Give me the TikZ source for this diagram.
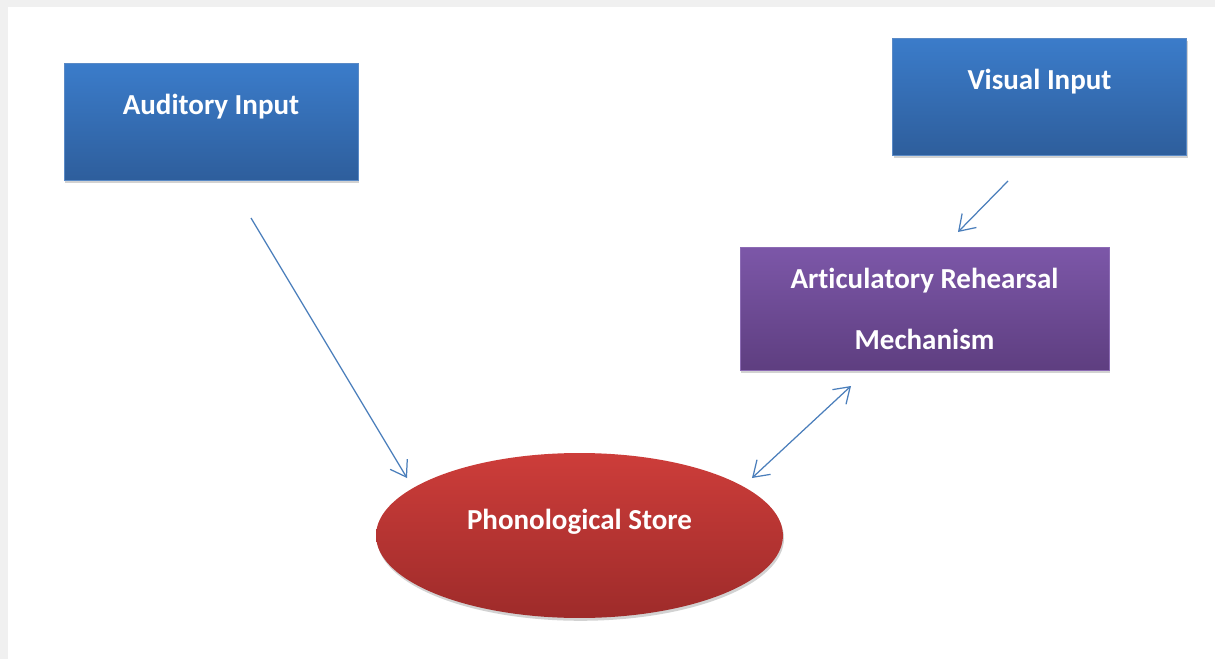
\documentclass[tikz,border=0pt]{standalone}
\usepackage{fontspec}
\setmainfont{Carlito}[Ligatures=NoCommon]
\usetikzlibrary{arrows.meta,shadows,shapes.geometric}
\definecolor{bluetop}{HTML}{3B7CCA}
\definecolor{bluebot}{HTML}{2E5E9C}
\definecolor{bluerim}{HTML}{5A8AC6}
\definecolor{purtop}{HTML}{7C57A8}
\definecolor{purbot}{HTML}{5E3E80}
\definecolor{purrim}{HTML}{8C6BB4}
\definecolor{redtop}{HTML}{CD3D3A}
\definecolor{redbot}{HTML}{9E2B2A}
\definecolor{linkblue}{HTML}{4A7EBB}
\tikzset{
  boxfont/.style={font=\fontsize{16.5}{20}\selectfont\bfseries,text=white},
  shade/.style={drop shadow={opacity=0.35,shadow xshift=0.6pt,shadow yshift=-1.6pt}},
  inbox/.style={rectangle,draw=bluerim,thin,top color=bluetop,bottom color=bluebot,shade,minimum width=5.88cm,minimum height=2.34cm,inner sep=0pt},
  rehbox/.style={rectangle,draw=purrim,thin,top color=purtop,bottom color=purbot,shade,boxfont,align=center,minimum width=7.38cm,minimum height=2.46cm,inner sep=0pt},
  store/.style={ellipse,top color=redtop,bottom color=redbot,shade,minimum width=8.14cm,minimum height=3.3cm,inner sep=0pt},
  link/.style={draw=linkblue,line width=0.7pt,-{Straight Barb[length=3mm,width=4mm]}},
  both/.style={draw=linkblue,line width=0.7pt,{Straight Barb[length=3mm,width=4mm]}-{Straight Barb[length=3mm,width=4mm]}}
}

\begin{document}
\begin{tikzpicture}[x=0.02cm,y=-0.02cm]
\fill[black!6] (0,0) rectangle (1215,659);
\fill[white] (8,7) rectangle (1215,659);

\node[inbox,label={[boxfont,yshift=0.30cm]center:Auditory Input}] (audin) at (211,122) {};
\node[inbox,label={[boxfont,yshift=0.30cm]center:Visual Input}] (visin) at (1039.5,96.5) {};
\node[rehbox] (rehearse) at (924.5,309) {Articulatory Rehearsal\\[15pt]Mechanism};
\node[store,label={[boxfont,yshift=0.28cm]center:Phonological Store}] (phon) at (579.5,535.5) {};

\coordinate (a1) at (251,218);
\coordinate (a2) at (407,478);
\coordinate (v1) at (1008,181);
\coordinate (v2) at (958,232);
\coordinate (r1) at (851,386);
\coordinate (r2) at (752,478);

\draw[link] (a1) -- (a2);
\draw[link] (v1) -- (v2);
\draw[both] (r1) -- (r2);

\end{tikzpicture}
\end{document}
